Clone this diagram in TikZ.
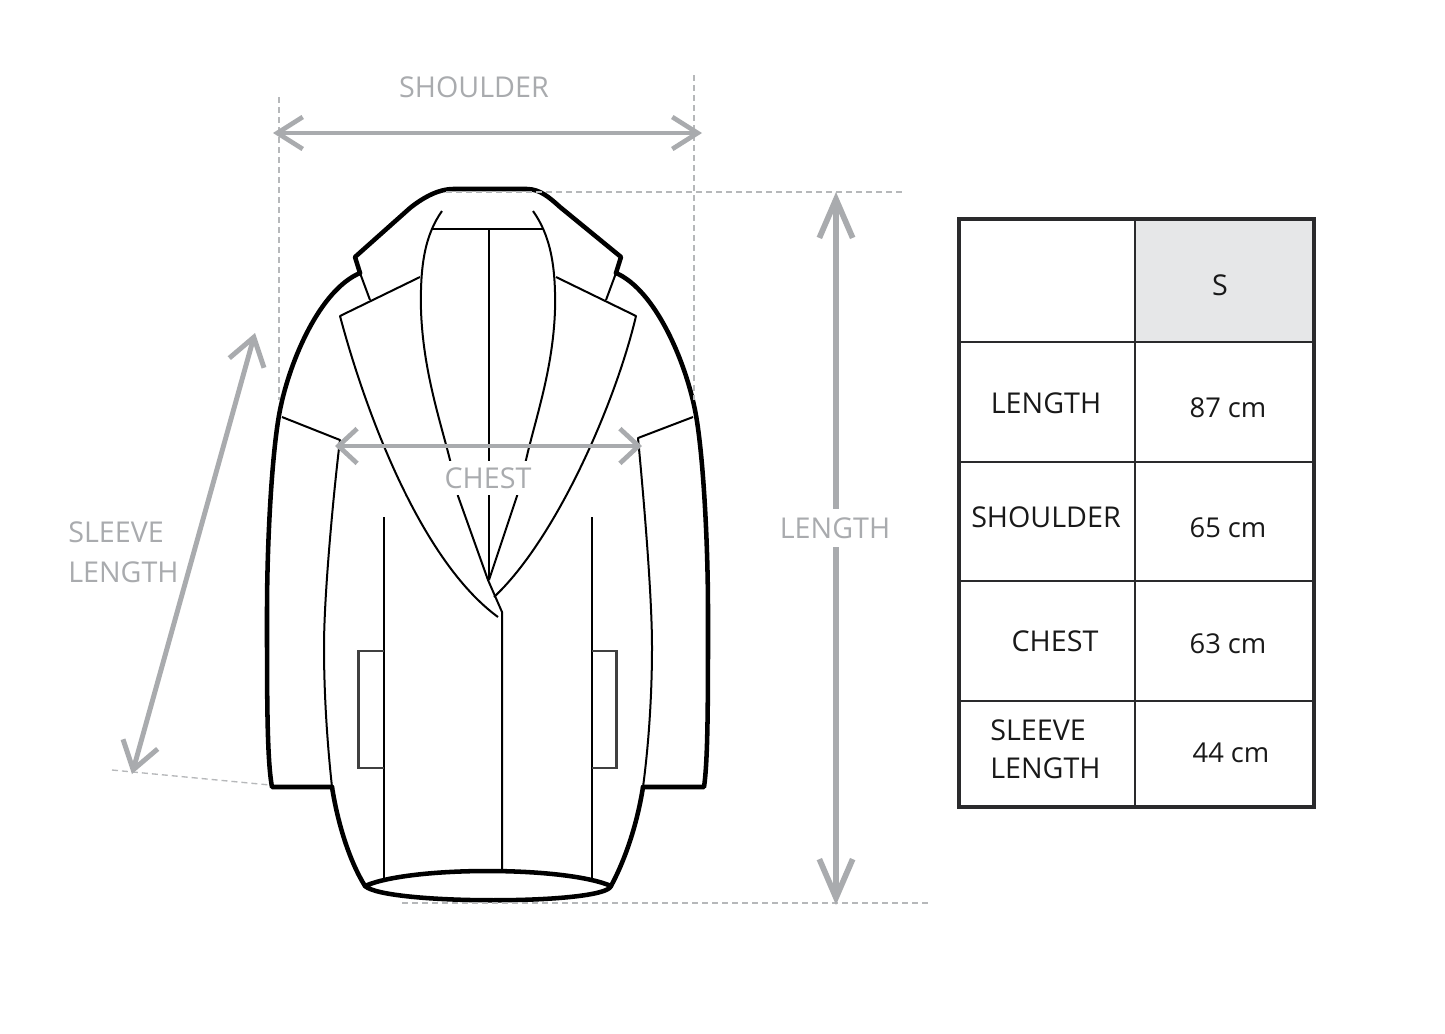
\documentclass[tikz,border=0pt]{standalone}
\usepackage{fontspec}
\setmainfont{Open Sans}
\usetikzlibrary{arrows.meta}
\definecolor{dimgray}{HTML}{A9ABAE}
\definecolor{inkline}{HTML}{000000}
\definecolor{cellgray}{HTML}{E6E7E8}
\definecolor{tablegray}{HTML}{2A2A2C}
\tikzset{
  thickink/.style={draw=inkline,line width=3.4pt,line join=round,line cap=round},
  thinink/.style={draw=inkline,line width=1.5pt,line join=round},
  pocketink/.style={draw=black!75,line width=1.7pt},
  dimarrow/.style n args={3}{draw=dimgray,line width=#3,{Straight Barb[length=#1,width=#2,line width=#3]}-{Straight Barb[length=#1,width=#2,line width=#3]}},
  guide/.style={draw=dimgray!85,line width=1pt,dash pattern=on 4.5pt off 3pt},
  dimlabel/.style={text=dimgray,font=\fontsize{21.5}{26}\selectfont,inner sep=0pt,anchor=center},
  celllabel/.style={text=black!90,font=\fontsize{21.5}{26}\selectfont,inner sep=0pt,anchor=center},
  cellvalue/.style={text=black!90,font=\fontsize{20.5}{24}\selectfont,inner sep=0pt,anchor=center},
  gridline/.style={draw=tablegray,line width=1.4pt},
  gridframe/.style={draw=tablegray,line width=3.3pt},
}
\begin{document}
\begin{tikzpicture}[x=0.75pt,y=-0.75pt]
\useasboundingbox (0,0) rectangle (1445,1033);
\fill[white] (0,0) rectangle (1445,1033);

% garment: thick outline
\draw[thickink] (360,273) .. controls (320,290) and (290,360) .. (280,410) .. controls (272,450) and (267,540) .. (267,613) .. controls (267,700) and (267,760) .. (272,787) -- (332,787);
\draw[thickink] (360,273) -- (355,257) -- (410,208) .. controls (425,196) and (440,189) .. (453,189) -- (527,189) .. controls (540,189) and (550,198) .. (560,207) -- (621,257) -- (616,273);
\draw[thickink] (616,273) .. controls (655,290) and (685,360) .. (695,410) .. controls (703,450) and (708,540) .. (708,613) .. controls (708,700) and (708,760) .. (704,787) -- (643,787);
\draw[thickink] (332,787) .. controls (338,825) and (350,862) .. (365,886);
\draw[thickink] (643,787) .. controls (637,825) and (625,860) .. (611,886);
\draw[thickink] (365,886) .. controls (410,866) and (565,866) .. (611,886) .. controls (605,905) and (385,905) .. (365,886);

% garment: thin lines
\draw[thinink] (282,417) -- (340,440) .. controls (335,480) and (324,590) .. (324,647) .. controls (324,700) and (328,750) .. (332,787);
\draw[thinink] (693,417) -- (638,438) .. controls (642,480) and (652,590) .. (652,647) .. controls (652,700) and (648,750) .. (643,787);
\draw[thinink] (360,273) -- (370,300);
\draw[thinink] (616,273) -- (606,300);
\draw[thinink] (420,277) -- (340,316) .. controls (365,410) and (420,560) .. (498,617);
\draw[thinink] (556,277) -- (636,316) .. controls (615,405) and (555,540) .. (494,597);
\draw[thinink] (442,211) .. controls (425,235) and (420,265) .. (421,310) .. controls (423,370) and (440,420) .. (450,460) -- (458,496) -- (488,580) -- (502,612) -- (502,872);
\draw[thinink] (533,211) .. controls (550,235) and (556,265) .. (555,310) .. controls (553,370) and (535,420) .. (526,460) -- (517,496) -- (489,580);
\draw[thinink] (432,229) -- (543,229);
\draw[thinink] (489,229) -- (489,580);
\draw[thinink] (384,517) -- (384,878);
\draw[thinink] (592,517) -- (592,878);
\draw[pocketink] (384,651) -- (358.5,651) -- (358.5,768) -- (384,768);
\draw[pocketink] (592,651) -- (616.5,651) -- (616.5,768) -- (592,768);

% guides
\coordinate (gsl1) at (279,97); \coordinate (gsl2) at (279,400);
\coordinate (gsr1) at (694,75); \coordinate (gsr2) at (694,400);
\coordinate (glt1) at (446,192); \coordinate (glt2) at (902,192);
\coordinate (glb1) at (402,903); \coordinate (glb2) at (932,903);
\coordinate (gsv1) at (112,770); \coordinate (gsv2) at (270,785);
\draw[guide] (gsl1) -- (gsl2);
\draw[guide] (gsr1) -- (gsr2);
\draw[guide] (glt1) -- (glt2);
\draw[guide] (glb1) -- (glb2);
\draw[guide] (gsv1) -- (gsv2);

% dimension arrows
\coordinate (as1) at (273,133); \coordinate (as2) at (702,133);
\coordinate (ac1) at (335,446); \coordinate (ac2) at (642,446);
\coordinate (al1) at (836,192); \coordinate (al2) at (836,905);
\coordinate (av1) at (255,333); \coordinate (av2) at (132,774);
\draw[dimarrow={19pt}{24pt}{3.5pt}] (as1) -- (as2);
\draw[dimarrow={14pt}{26pt}{3.5pt}] (ac1) -- (ac2);
\draw[dimarrow={29pt}{25pt}{4.3pt}] (al1) -- (al2);
\draw[dimarrow={20pt}{27pt}{3.7pt}] (av1) -- (av2);

% dimension labels
\node[dimlabel] (lblshoulder) at (474,87) {SHOULDER};
\node[dimlabel,fill=white,minimum width=67.5pt,minimum height=26pt] (lblchest) at (488,478) {CHEST};
\node[dimlabel,fill=white,minimum height=29pt] (lbllength) at (835,528) {LENGTH};
\node[dimlabel,anchor=west] (lblsleeve) at (68,532) {SLEEVE};
\node[dimlabel,anchor=west] (lblsleevelen) at (68,572) {LENGTH};

% table
\fill[cellgray] (1135,221) rectangle (1313,342);
\draw[gridline] (1135,219) -- (1135,807);
\draw[gridline] (959,342) -- (1314,342);
\draw[gridline] (959,462) -- (1314,462);
\draw[gridline] (959,581) -- (1314,581);
\draw[gridline] (959,701) -- (1314,701);
\draw[gridframe] (959,219) rectangle (1314,807);

\node[celllabel] (hs) at (1220,285) {S};
\node[celllabel] (r1) at (1046,403) {LENGTH};
\node[cellvalue] (v1) at (1228,408) {87 cm};
\node[celllabel] (r2) at (1046,517) {SHOULDER};
\node[cellvalue] (v2) at (1228,528) {65 cm};
\node[celllabel] (r3) at (1055,641) {CHEST};
\node[cellvalue] (v3) at (1228,644) {63 cm};
\node[celllabel,anchor=west] (r4a) at (990,730) {SLEEVE};
\node[celllabel,anchor=west] (r4b) at (990,768) {LENGTH};
\node[cellvalue] (v4) at (1231,753) {44 cm};
\end{tikzpicture}
\end{document}
